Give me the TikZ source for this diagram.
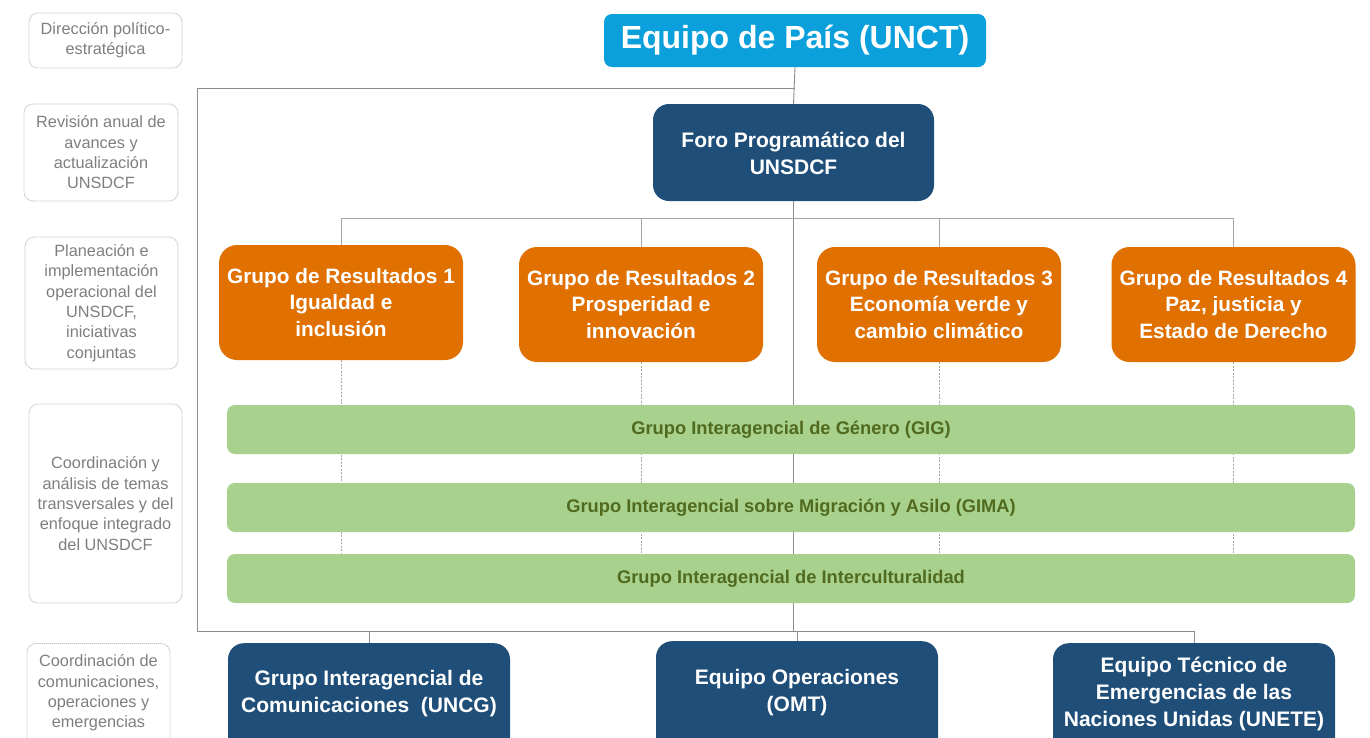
\documentclass[tikz,border=0pt]{standalone}
\usepackage{fontspec}
\setmainfont{Liberation Sans}
\pgfdeclarelayer{bg}
\pgfsetlayers{bg,main}
\definecolor{unctblue}{HTML}{0BA0DC}
\definecolor{navy}{HTML}{1F4E79}
\definecolor{orng}{HTML}{E07000}
\definecolor{lgreen}{HTML}{A9D18E}
\definecolor{dgreen}{HTML}{506A1E}
\definecolor{lblborder}{HTML}{BFBFBF}
\definecolor{lbltext}{HTML}{7F7F7F}
\definecolor{framegray}{HTML}{8C8C8C}
\definecolor{conngray}{HTML}{A6A6A6}
\tikzset{
  lbl/.style={draw=lblborder, dash pattern=on 1.2pt off 0.8pt, line width=0.8pt, rounded corners=9pt,
    text=lbltext, align=center, font=\fontsize{16.3}{20.3}\selectfont, inner sep=0pt},
  lbltxt/.style={text=lbltext, align=center, font=\fontsize{16.3}{20.3}\selectfont, inner sep=0pt},
  topbox/.style={fill=unctblue, rounded corners=8pt, text=white, font=\bfseries\fontsize{32}{36}\selectfont,
    minimum width=382, minimum height=53, inner sep=0pt},
  navybox/.style={fill=navy, rounded corners=16pt, inner sep=0pt},
  navytxt/.style={text=white, align=center, font=\bfseries\fontsize{21}{27}\selectfont, inner sep=0pt},
  grbox/.style={fill=orng, rounded corners=18pt, text=white, align=center,
    font=\bfseries\fontsize{20.8}{26.5}\selectfont, minimum width=244, minimum height=115, inner sep=0pt},
  bar/.style={fill=lgreen, rounded corners=8pt, text=dgreen, font=\bfseries\fontsize{18.3}{22}\selectfont,
    minimum width=1128, minimum height=49, inner sep=0pt},
  frameline/.style={draw=framegray, line width=0.9pt},
  connline/.style={draw=conngray, line width=0.9pt},
  dashline/.style={draw=conngray, line width=0.8pt, dash pattern=on 2pt off 1.5pt}
}
\begin{document}
\begin{tikzpicture}[x=1pt,y=-1pt]
\clip (0,0) rectangle (1370,737);

% left labels
\node[lbl, minimum width=153, minimum height=55] (l1) at (105.5,40.5) {Dirección político-\\estratégica};
\node[lbl, minimum width=154, minimum height=97] (l2) at (101,152.5) {Revisión anual de\\avances y\\actualización\\UNSDCF};
\node[lbl, minimum width=153, minimum height=132] (l3) at (101.5,303) {Planeación e\\implementación\\operacional del\\UNSDCF,\\iniciativas\\conjuntas};
\node[lbl, minimum width=153, minimum height=199] (l4) at (105.5,503.5) {Coordinación y\\análisis de temas\\transversales y del\\enfoque integrado\\del UNSDCF};
\node[lbl, minimum width=143, minimum height=120, anchor=north] (l5) at (98.5,643) {};
\node[lbltxt] (l5t) at (98.5,693) {Coordinación de\\comunicaciones,\\operaciones y\\emergencias};

% main boxes
\node[topbox] (unct) at (795,40.5) {Equipo de País (UNCT)};
\node[navybox, minimum width=281, minimum height=97] (foro) at (793.5,152.5) {};
\node[navytxt] (forot) at (793.5,153.5) {Foro Programático del\\UNSDCF};

\node[grbox] (gr1) at (341,302.5) {Grupo de Resultados 1\\Igualdad e\\inclusión};
\node[grbox] (gr2) at (641,304.5) {Grupo de Resultados 2\\Prosperidad e\\innovación};
\node[grbox] (gr3) at (939,304.5) {Grupo de Resultados 3\\Economía verde y\\cambio climático};
\node[grbox] (gr4) at (1233.5,304.5) {Grupo de Resultados 4\\Paz, justicia y\\Estado de Derecho};

\node[bar] (gig) at (791,429.5) {Grupo Interagencial de Género (GIG)};
\node[bar] (gima) at (791,507.5) {Grupo Interagencial sobre Migración y Asilo (GIMA)};
\node[bar] (cult) at (791,578.5) {Grupo Interagencial de Interculturalidad};

\node[navybox, minimum width=282, minimum height=120, anchor=north] (uncg) at (369,643) {};
\node[navytxt] (uncgt) at (369,693.5) {Grupo Interagencial de\\Comunicaciones\ \ (UNCG)};
\node[navybox, minimum width=282, minimum height=120, anchor=north] (omt) at (797,641) {};
\node[navytxt] (omtt) at (797,692.5) {Equipo Operaciones\\(OMT)};
\node[navybox, minimum width=282, minimum height=120, anchor=north] (unete) at (1194,643) {};
\node[navytxt] (unetet) at (1194,693.5) {Equipo Técnico de\\Emergencias de las\\Naciones Unidas (UNETE)};

% connectors
\coordinate (tl) at (197,88);
\coordinate (bl) at (197,631);
\coordinate (hb) at (0,218);
\begin{pgfonlayer}{bg}
\fill[white] (0,0) rectangle (1370,737);
\draw[frameline] (unct.south) -- (foro.north);
\draw[frameline] (unct.south |- tl) -- (tl) -- (bl) -- (unete.north |- bl) -- (unete.north);
\draw[frameline] (uncg.north) -- (uncg.north |- bl);
\draw[frameline] (omt.north) -- (omt.north |- bl);
\draw[frameline] (foro.south) -- (foro.south |- bl);
\draw[connline] (gr1.north) -- (gr1.north |- hb) -- (gr4.north |- hb) -- (gr4.north);
\draw[connline] (gr2.north) -- (gr2.north |- hb);
\draw[connline] (gr3.north) -- (gr3.north |- hb);
\foreach \g in {gr1,gr2,gr3,gr4}{
  \draw[dashline] (\g.south) -- (\g.south |- cult.north);
}
\end{pgfonlayer}
\end{tikzpicture}
\end{document}
